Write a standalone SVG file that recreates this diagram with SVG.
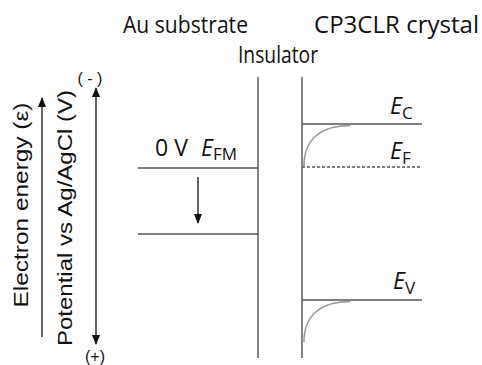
<svg xmlns="http://www.w3.org/2000/svg" width="482" height="365" viewBox="0 0 482 365">
<defs>
<marker id="ah" markerWidth="10" markerHeight="10" refX="9" refY="5" orient="auto" markerUnits="userSpaceOnUse"><path d="M0,1 L10,5 L0,9 z" fill="#111"/></marker>
<marker id="ahs" markerWidth="10" markerHeight="10" refX="9" refY="5" orient="auto-start-reverse" markerUnits="userSpaceOnUse"><path d="M0,1 L10,5 L0,9 z" fill="#111"/></marker>
</defs>
<style>
.lbl{font-family:"Open Sans","Noto Sans",sans-serif;fill:#111}
.ax{font-family:"Liberation Sans",Arial,sans-serif;fill:#111}
.lvl{stroke:#555;stroke-width:1.5;fill:none}
.bend{stroke:#999;stroke-width:1.6;fill:none}
.wall{stroke:#666;stroke-width:1.6}
.arr{stroke:#111;stroke-width:1.3;fill:none}
</style>
<rect width="482" height="365" fill="#fff"/>
<g id="titles">
<text class="lbl" x="123" y="33" font-size="23" textLength="125" lengthAdjust="spacingAndGlyphs">Au substrate</text>
<text class="lbl" x="314" y="33" font-size="23" textLength="165" lengthAdjust="spacingAndGlyphs">CP3CLR crystal</text>
<text class="lbl" x="238" y="63" font-size="23" textLength="80" lengthAdjust="spacingAndGlyphs">Insulator</text>
</g>
<g id="axis-energy">
<text class="ax" transform="translate(28,205) rotate(-90)" text-anchor="middle" font-size="21" textLength="205" lengthAdjust="spacingAndGlyphs">Electron energy (ε)</text>
</g>
<g id="axis-potential">
<text class="ax" transform="translate(72,218) rotate(-90)" text-anchor="middle" font-size="21" textLength="256" lengthAdjust="spacingAndGlyphs">Potential vs Ag/AgCl (V)</text>
<text class="ax" x="90" y="84" font-size="16" text-anchor="middle">( - )</text>
<text class="ax" x="95" y="362" font-size="16" text-anchor="middle">(+)</text>
</g>
<g id="insulator">
<line class="wall" x1="258" y1="77" x2="258" y2="358"/>
<line class="wall" x1="302" y1="77" x2="302" y2="358"/>
</g>
<g id="au-levels">
<line class="lvl" x1="138" y1="168" x2="258" y2="168"/>
<line class="lvl" x1="138" y1="234" x2="258" y2="234"/>
<text class="lbl" y="156" font-size="23"><tspan x="155">0 V</tspan><tspan x="201" font-style="italic">E</tspan><tspan font-size="17" dy="4">FM</tspan></text>
</g>
<g id="crystal-levels">
<line class="lvl" x1="302" y1="124" x2="422" y2="124"/>
<line x1="302" y1="167" x2="422" y2="167" stroke="#555" stroke-width="1.5" stroke-dasharray="3,2"/>
<line class="lvl" x1="302" y1="300" x2="422" y2="300"/>
<path class="bend" d="M304,166 C304,140 320,125.5 350,125.5"/>
<path class="bend" d="M304,342 C304,316 320,301.5 350,301.5"/>
<text class="lbl" x="390" y="114" font-size="23"><tspan font-style="italic">E</tspan><tspan font-size="17" dy="5">C</tspan></text>
<text class="lbl" x="390" y="159" font-size="23"><tspan font-style="italic">E</tspan><tspan font-size="17" dy="5">F</tspan></text>
<text class="lbl" x="393" y="289" font-size="23"><tspan font-style="italic">E</tspan><tspan font-size="17" dy="5">V</tspan></text>
</g>
<g id="connectors">
<line class="arr" x1="42" y1="337" x2="42" y2="98" marker-end="url(#ah)"/>
<line class="arr" x1="96" y1="88" x2="96" y2="344" marker-start="url(#ahs)" marker-end="url(#ahs)"/>
<line class="arr" x1="198" y1="177" x2="198" y2="223" marker-end="url(#ah)"/>
</g>
</svg>
